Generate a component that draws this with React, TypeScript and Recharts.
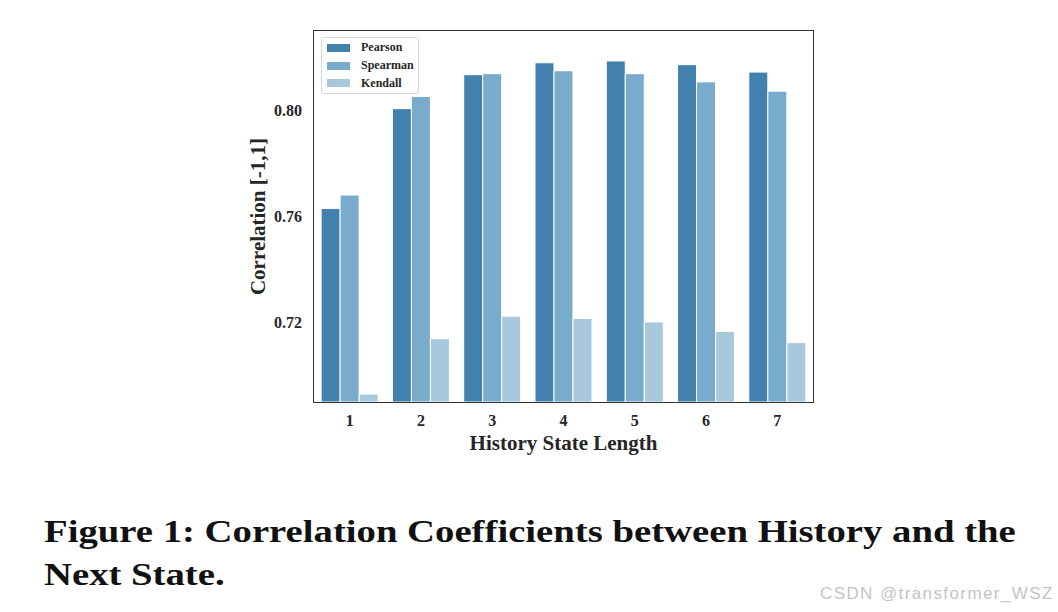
import React from 'react';
import { BarChart, Bar, XAxis, YAxis } from 'recharts';

const lengths = ['1', '2', '3', '4', '5', '6', '7'];
const pearson = [0.763, 0.8007, 0.8135, 0.818, 0.8187, 0.8173, 0.8145];
const spearman = [0.7681, 0.8053, 0.8139, 0.815, 0.8139, 0.8108, 0.8073];
const kendall = [0.693, 0.7139, 0.7224, 0.7215, 0.7202, 0.7166, 0.7124];
const yTicks = [0.72, 0.76, 0.8];

const SERIES = [
    { key: 'Pearson', color: '#4281ae' },
    { key: 'Spearman', color: '#79abcc' },
    { key: 'Kendall', color: '#a7c8dd' },
];

const SERIF = '"Liberation Serif", "Times New Roman", serif';
const INK = '#262626';
const FRAME = '#333';

// plot box in page pixels
const PLOT = { left: 314, top: 31, width: 499, height: 371 };

const chartData = lengths.map((name, i) => ({
    name,
    Pearson: pearson[i],
    Spearman: spearman[i],
    Kendall: kendall[i],
}));

function LegendBox() {
    return (
        <div
            style={{
                position: 'absolute',
                left: 321,
                top: 37,
                background: '#fff',
                border: '1px solid #d6d6d6',
                borderRadius: 3,
                width: 96,
                padding: '1px 0',
                fontFamily: SERIF,
                fontWeight: 'bold',
                fontSize: 12,
                color: INK,
            }}
        >
            {SERIES.map((s) => (
                <div key={s.key} style={{ display: 'flex', alignItems: 'center', height: 17.7 }}>
                    <span
                        style={{
                            display: 'inline-block',
                            width: 23,
                            height: 8,
                            background: s.color,
                            marginLeft: 5,
                            marginRight: 11,
                        }}
                    />
                    {s.key}
                </div>
            ))}
        </div>
    );
}

export default function App() {
    const tickStyle = { fontFamily: SERIF, fontWeight: 'bold', fontSize: 16, fill: INK };

    return (
        <div style={{ position: 'absolute', left: 0, top: 0, width: 1058, height: 612, background: '#fff' }}>
            <BarChart
                width={1058}
                height={612}
                data={chartData}
                margin={{ top: PLOT.top, right: 1058 - PLOT.left - PLOT.width, bottom: 150, left: 0 }}
                barCategoryGap="10%"
                barGap={0}
            >
                <XAxis
                    dataKey="name"
                    tickLine={false}
                    tickMargin={7}
                    axisLine={false}
                    tick={tickStyle}
                    height={60}
                    label={{
                        value: 'History State Length',
                        position: 'insideBottom',
                        offset: 12,
                        style: { fontFamily: SERIF, fontWeight: 'bold', fontSize: 21, fill: INK },
                    }}
                />
                <YAxis
                    domain={[0.69, 0.83]}
                    ticks={yTicks}
                    tickFormatter={(v: number) => v.toFixed(2)}
                    allowDataOverflow
                    tickLine={false}
                    tickMargin={6}
                    width={PLOT.left}
                    axisLine={false}
                    tick={tickStyle}
                    label={{
                        value: 'Correlation [-1,1]',
                        angle: -90,
                        position: 'insideLeft',
                        offset: 258,
                        style: { textAnchor: 'middle', fontFamily: SERIF, fontWeight: 'bold', fontSize: 21, fill: INK },
                    }}
                />
                {SERIES.map((s) => (
                    <Bar
                        key={s.key}
                        dataKey={s.key}
                        fill={s.color}
                        stroke="#fff"
                        strokeWidth={1}
                        isAnimationActive={false}
                    />
                ))}
            </BarChart>
            {/* axes frame around the plot area */}
            <div
                style={{
                    position: 'absolute',
                    left: PLOT.left - 1,
                    top: PLOT.top - 1,
                    width: PLOT.width,
                    height: PLOT.height,
                    border: `1.5px solid ${FRAME}`,
                    pointerEvents: 'none',
                }}
            />
            <LegendBox />
            <div
                style={{
                    position: 'absolute',
                    left: 44,
                    top: 510,
                    fontFamily: SERIF,
                    fontWeight: 'bold',
                    fontSize: 32,
                    lineHeight: '42.5px',
                    transform: 'scaleX(1.21)',
                    transformOrigin: 'left top',
                    color: '#111',
                    whiteSpace: 'nowrap',
                }}
            >
                Figure 1: Correlation Coefficients between History and the
                <br />
                Next State.
            </div>
            <div
                style={{
                    position: 'absolute',
                    left: 820,
                    top: 584,
                    fontFamily: '"Liberation Sans", Arial, sans-serif',
                    fontSize: 17,
                    letterSpacing: 1.4,
                    color: '#c4c4c4',
                    whiteSpace: 'nowrap',
                }}
            >
                CSDN @transformer_WSZ
            </div>
        </div>
    );
}
